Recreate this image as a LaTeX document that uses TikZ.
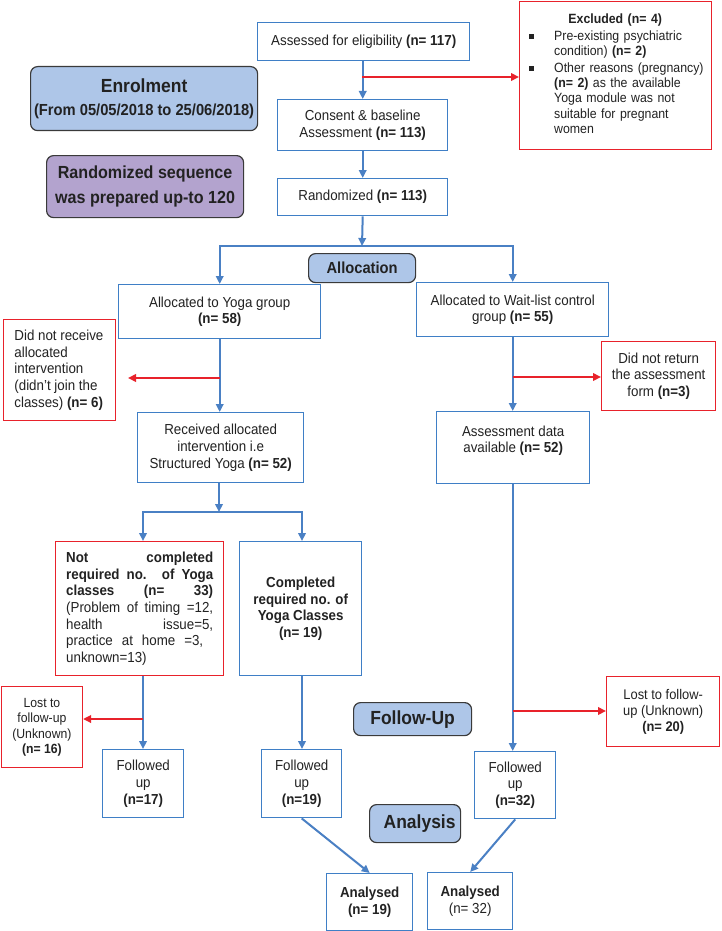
\documentclass[tikz,border=0pt]{standalone}
\usepackage{fontspec}
\setmainfont{Liberation Sans}[FakeStretch=0.92]
\usetikzlibrary{arrows.meta}
\definecolor{bblue}{HTML}{3F7FC6}
\definecolor{ablue}{HTML}{4A80C4}
\definecolor{rred}{HTML}{E8222B}
\definecolor{hblue}{HTML}{AEC6E8}
\definecolor{hpurple}{HTML}{B3A3CE}
\definecolor{hborder}{HTML}{3A3A3A}
\definecolor{txt}{HTML}{222222}
\newcommand\mainf{\fontsize{14.5}{16.6}\selectfont}
\newcommand\exf{\fontsize{13.4}{15.4}\selectfont}
\begin{document}
\begin{tikzpicture}[x=1pt,y=-1pt,
  bbox/.style={draw=bblue, line width=1.4pt, fill=white, inner sep=0pt, anchor=north west, align=center, font=\mainf, text=txt},
  rbox/.style={bbox, draw=rred},
  hbox/.style={draw=hborder, fill=hblue, rounded corners=7pt, line width=1.2pt, inner sep=0pt, anchor=north west, align=center, text=txt},
  arr/.style={draw=ablue, line width=2pt, -{Triangle[length=8pt,width=7.5pt]}},
  rarr/.style={draw=rred, line width=2pt, -{Triangle[length=8pt,width=7.5pt]}},
  ln/.style={draw=ablue, line width=2pt, line cap=rect},
  sz/.style 2 args={minimum width=#1pt, minimum height=#2pt}]
\useasboundingbox[fill=white] (0,0) rectangle (721,931);

% phase labels
\node[hbox, sz={227}{64}, font=\fontsize{16}{23}\selectfont\bfseries] (enrol) at (30,66)
  {{\fontsize{19}{23}\selectfont Enrolment}\\(From 05/05/2018 to 25/06/2018)};
\node[hbox, fill=hpurple, sz={197}{62}, font=\fontsize{17.5}{25}\selectfont\bfseries] (randseq) at (46,155)
  {Randomized sequence\\was prepared up-to 120};
\node[hbox, sz={107}{29}, font=\fontsize{16}{19}\selectfont\bfseries] (alloc) at (308,253) {Allocation};
\node[hbox, sz={118}{33}, font=\fontsize{19}{22}\selectfont\bfseries] (follow) at (353,702) {Follow-Up};
\node[hbox, sz={91}{38}, font=\fontsize{19}{22}\selectfont\bfseries] (analysis) at (369,804) {\hspace*{9pt}Analysis};

% enrolment column
\node[bbox, sz={212}{38}] (assess) at (257,22) {Assessed for eligibility \textbf{(n= 117)}};
\node[rbox, sz={192}{148}] (excl) at (519,0.7) {};
\node[anchor=north west, inner sep=0pt, text width=182pt, align=left, font=\exf, text=txt] (excltxt) at (524,13.5) {%
\makebox[182pt]{\bfseries Excluded (n= 4)}\\[1.5pt]
\makebox[30pt][l]{\hspace*{5pt}\rule[1.5pt]{5pt}{5pt}}\makebox[147pt][s]{Pre-existing psychiatric}\\
\hspace*{30pt}condition) \textbf{(n= 2)}\\[1pt]
\makebox[30pt][l]{\hspace*{5pt}\rule[1.5pt]{5pt}{5pt}}\makebox[147pt][s]{Other reasons (pregnancy)}\\
\hspace*{30pt}\makebox[147pt][s]{\textbf{(n= 2)} as the available}\\
\hspace*{30pt}\makebox[147pt][s]{Yoga module was not}\\
\hspace*{30pt}\makebox[147pt][s]{suitable for pregnant}\\
\hspace*{30pt}women};
\node[bbox, sz={170}{51}] (consent) at (277,99) {Consent \& baseline\\Assessment \textbf{(n= 113)}};
\node[bbox, sz={170}{37}] (rand) at (277,178) {Randomized \textbf{(n= 113)}};

% allocation
\node[bbox, sz={202}{54}] (yoga) at (118,284) {Allocated to Yoga group\\\textbf{(n= 58)}};
\node[bbox, sz={192}{54}] (wait) at (416,282) {Allocated to Wait-list control\\group \textbf{(n= 55)}};
\node[rbox, sz={112}{101}, align=left] (dnrecv) at (3,319)
  {Did not receive\\allocated\\intervention\\(didn't join the\\classes) \textbf{(n= 6)}\hspace*{2pt}};
\node[rbox, sz={114}{69}] (dnret) at (601,341) {Did not return\\the assessment\\form \textbf{(n=3)}};
\node[bbox, sz={166}{70}] (recv) at (137,412) {Received allocated\\intervention i.e\\Structured Yoga \textbf{(n= 52)}};
\node[bbox, sz={153}{72}] (adata) at (436,411) {Assessment data\\available \textbf{(n= 52)}\\\mbox{}};

% yoga split
\node[rbox, sz={168}{134}, align=left] (notc) at (55,541) {%
\makebox[147pt][s]{\bfseries Not completed}\\
\makebox[147pt][s]{\bfseries required no. of Yoga}\\
\makebox[147pt][s]{\bfseries classes (n= 33)}\\
\makebox[147pt][s]{(Problem of timing =12,}\\
\makebox[147pt][s]{health issue=5,}\\
\makebox[137pt][s]{practice at home =3,}\\
unknown=13)};
\node[bbox, sz={122}{134}, font=\mainf\bfseries] (comp) at (239,541) {Completed\\required no. of\\Yoga Classes\\(n= 19)};

% follow-up
\node[rbox, sz={81}{81}, font=\fontsize{13.3}{15.3}\selectfont] (lostl) at (0.7,686) {Lost to\\follow-up\\(Unknown)\\\textbf{(n= 16)}};
\node[rbox, sz={113}{70}, font=\fontsize{14}{16}\selectfont] (lostr) at (606,676) {Lost to follow-\\up (Unknown)\\\textbf{(n= 20)}};
\node[bbox, sz={81}{68}] (f17) at (102,749) {Followed\\up\\\textbf{(n=17)}};
\node[bbox, sz={80}{68}] (f19) at (261,749) {Followed\\up\\\textbf{(n=19)}};
\node[bbox, sz={81}{67}] (f32) at (474,751) {Followed\\up\\\textbf{(n=32)}};

% analysis
\node[bbox, sz={86}{57}] (an19) at (326,873) {\textbf{Analysed}\\\textbf{(n= 19)}};
\node[bbox, sz={85}{57}] (an32) at (427,872) {\textbf{Analysed}\\(n= 32)};

% connectors
\draw[arr] (assess.south -| consent.north) -- (consent.north);
\coordinate (ex) at (362,77);
\draw[rarr] (ex) -- (ex -| excl.west);
\draw[arr] (consent.south) -- (rand.north);
\coordinate (s1) at (362,246);
\draw[arr] (rand.south) -- (s1);
\draw[ln] (yoga.north |- s1) -- (wait.north |- s1);
\draw[arr] (yoga.north |- s1) -- (yoga.north);
\draw[arr] (wait.north |- s1) -- (wait.north);

\draw[arr] (yoga.south) -- (yoga.south |- recv.north);
\coordinate (r1) at (yoga.south |- 0,378);
\coordinate (r1e) at (128,378);
\draw[rarr] (r1) -- (r1e);
\draw[arr] (wait.south) -- (wait.south |- adata.north);
\coordinate (r2) at (wait.south |- 0,377);
\draw[rarr] (r2) -- (r2 -| dnret.west);

\coordinate (s2) at (219,512);
\coordinate (s2l) at (143,512);
\coordinate (s2r) at (302,512);
\draw[arr] (recv.south -| s2) -- (s2);
\draw[ln] (s2l) -- (s2r);
\draw[arr] (s2l) -- (s2l |- notc.north);
\draw[arr] (s2r) -- (s2r |- comp.north);

\draw[arr] (s2l |- notc.south) -- (s2l |- f17.north);
\coordinate (r3) at (143,719);
\draw[rarr] (r3) -- (r3 -| lostl.east);
\draw[arr] (s2r |- comp.south) -- (s2r |- f19.north);
\draw[arr] (wait.south |- adata.south) -- (wait.south |- f32.north);
\coordinate (r4) at (wait.south |- 0,711);
\draw[rarr] (r4) -- (r4 -| lostr.west);

\draw[arr] (f19.south) -- (an19.north);
\draw[arr] (f32.south) -- (an32.north);
\end{tikzpicture}
\end{document}
